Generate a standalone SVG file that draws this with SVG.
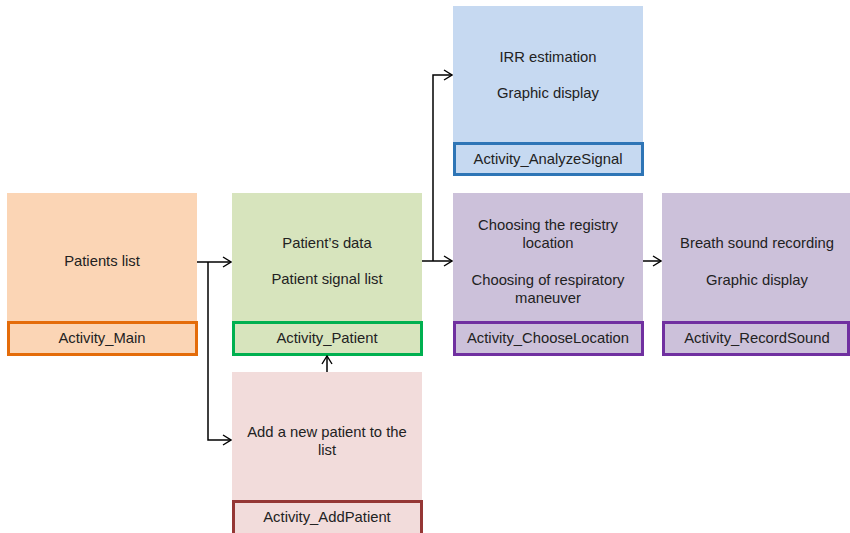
<svg xmlns="http://www.w3.org/2000/svg" width="850" height="533" viewBox="0 0 850 533">
  <defs>
    <style>
      text { font-family: "Liberation Sans", Arial, sans-serif; font-size: 14.8px; fill: #222; text-anchor: middle; }
      .lbl { stroke-width: 3; }
      .conn { fill: none; stroke: #000; stroke-width: 1.5; }
    </style>
    <marker id="arr" viewBox="0 0 10 12" refX="9" refY="6" markerWidth="10" markerHeight="12" markerUnits="userSpaceOnUse" orient="auto">
      <path d="M1,1 L9,6 L1,11" fill="none" stroke="#000" stroke-width="1.4"/>
    </marker>
  </defs>
  <rect width="850" height="533" fill="#fff"/>

  <g id="main">
    <rect x="7" y="193" width="190" height="162" fill="#FBD5B5"/>
    <rect class="lbl" x="8.5" y="322.5" width="188" height="32" fill="#FBD5B5" stroke="#E46C0A"/>
    <text x="102" y="266">Patients list</text>
    <text x="102" y="343">Activity_Main</text>
  </g>

  <g id="patient">
    <rect x="232" y="193" width="190" height="162" fill="#D7E4BD"/>
    <rect class="lbl" x="233.5" y="322.5" width="188" height="32" fill="#D7E4BD" stroke="#00B050"/>
    <text x="327" y="248">Patient’s data</text>
    <text x="327" y="284">Patient signal list</text>
    <text x="327" y="343">Activity_Patient</text>
  </g>

  <g id="addpatient">
    <rect x="232" y="372" width="190" height="161" fill="#F2DCDB"/>
    <rect class="lbl" x="233.5" y="501.5" width="188" height="33" fill="#F2DCDB" stroke="#953735"/>
    <text x="327" y="437">Add a new patient to the</text>
    <text x="327" y="455">list</text>
    <text x="327" y="522">Activity_AddPatient</text>
  </g>

  <g id="analyzesignal">
    <rect x="453" y="6" width="190" height="170" fill="#C6D9F1"/>
    <rect class="lbl" x="454.5" y="143.5" width="188" height="31" fill="#C6D9F1" stroke="#2E75B6"/>
    <text x="548" y="62">IRR estimation</text>
    <text x="548" y="98">Graphic display</text>
    <text x="548" y="164">Activity_AnalyzeSignal</text>
  </g>

  <g id="chooselocation">
    <rect x="453" y="193" width="190" height="162" fill="#CCC1DA"/>
    <rect class="lbl" x="454.5" y="322.5" width="188" height="32" fill="#CCC1DA" stroke="#7030A0"/>
    <text x="548" y="230">Choosing the registry</text>
    <text x="548" y="248">location</text>
    <text x="548" y="285">Choosing of respiratory</text>
    <text x="548" y="303">maneuver</text>
    <text x="548" y="343">Activity_ChooseLocation</text>
  </g>

  <g id="recordsound">
    <rect x="662" y="193" width="188" height="162" fill="#CCC1DA"/>
    <rect class="lbl" x="663.5" y="322.5" width="185" height="32" fill="#CCC1DA" stroke="#7030A0"/>
    <text x="757" y="248">Breath sound recording</text>
    <text x="757" y="285">Graphic display</text>
    <text x="757" y="343">Activity_RecordSound</text>
  </g>

  <g id="connectors">
    <path class="conn" d="M197,262 H231" marker-end="url(#arr)"/>
    <path class="conn" d="M208,262 V440 H231" marker-end="url(#arr)"/>
    <path class="conn" d="M327,372 V356" marker-end="url(#arr)"/>
    <path class="conn" d="M422,261 H452" marker-end="url(#arr)"/>
    <path class="conn" d="M433,261 V75 H452" marker-end="url(#arr)"/>
    <path class="conn" d="M643,261 H661" marker-end="url(#arr)"/>
  </g>
</svg>
